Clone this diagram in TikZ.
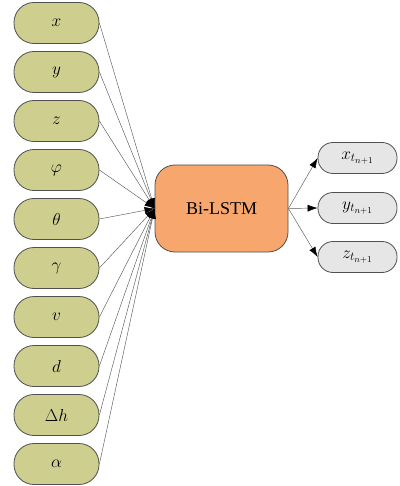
\documentclass[tikz,border=0pt]{standalone}
\usepackage{fontspec}
\setmainfont{Liberation Serif}
\usetikzlibrary{arrows.meta}
\definecolor{olivefill}{RGB}{206,206,142}
\definecolor{lstmfill}{RGB}{247,166,110}
\definecolor{outfill}{RGB}{230,230,230}
\definecolor{edgegray}{RGB}{80,80,80}
\tikzset{
  inbox/.style={draw=edgegray, line width=0.8pt, fill=olivefill, minimum width=85pt, minimum height=41pt, rounded corners=20pt, inner sep=0pt, font=\fontsize{17}{17}\selectfont},
  outbox/.style={draw=edgegray, line width=0.8pt, fill=outfill, minimum width=79pt, minimum height=31pt, rounded corners=15pt, inner sep=0pt, font=\fontsize{18}{18}\selectfont},
  lstmbox/.style={draw=edgegray, line width=0.8pt, fill=lstmfill, minimum width=133pt, minimum height=87pt, rounded corners=20pt, font=\fontsize{18}{18}\selectfont},
  conn/.style={draw=black!65, line width=0.45pt},
  tip/.style={-{Latex[length=10pt,width=7pt,black]}}
}
\begin{document}
\begin{tikzpicture}[x=1pt,y=-1pt]
\useasboundingbox (0,0) rectangle (399,486);
\node[lstmbox] (lstm) at (221.5,208.5) {Bi-LSTM};
\node[inbox] (i1) at (56.5,23) {$x$};
\node[inbox] (i2) at (56.5,72) {$y$};
\node[inbox] (i3) at (56.5,121) {$z$};
\node[inbox] (i4) at (56.5,170) {$\varphi$};
\node[inbox] (i5) at (56.5,219) {$\theta$};
\node[inbox] (i6) at (56.5,268) {$\gamma$};
\node[inbox] (i7) at (56.5,317) {$v$};
\node[inbox] (i8) at (56.5,366) {$d$};
\node[inbox] (i9) at (56.5,415) {$\Delta h$};
\node[inbox] (i10) at (56.5,464) {$\alpha$};
\node[outbox] (o1) at (357.5,158) {$x_{t_{n+1}}$};
\node[outbox] (o2) at (357.5,208) {$y_{t_{n+1}}$};
\node[outbox] (o3) at (357.5,257) {$z_{t_{n+1}}$};
\foreach \i in {1,...,10} {
  \draw[conn,tip] (i\i.east) -- (lstm.west);
}
\foreach \i in {1,2,3} {
  \draw[conn,tip] (lstm.east) -- (o\i.west);
}
\end{tikzpicture}
\end{document}
